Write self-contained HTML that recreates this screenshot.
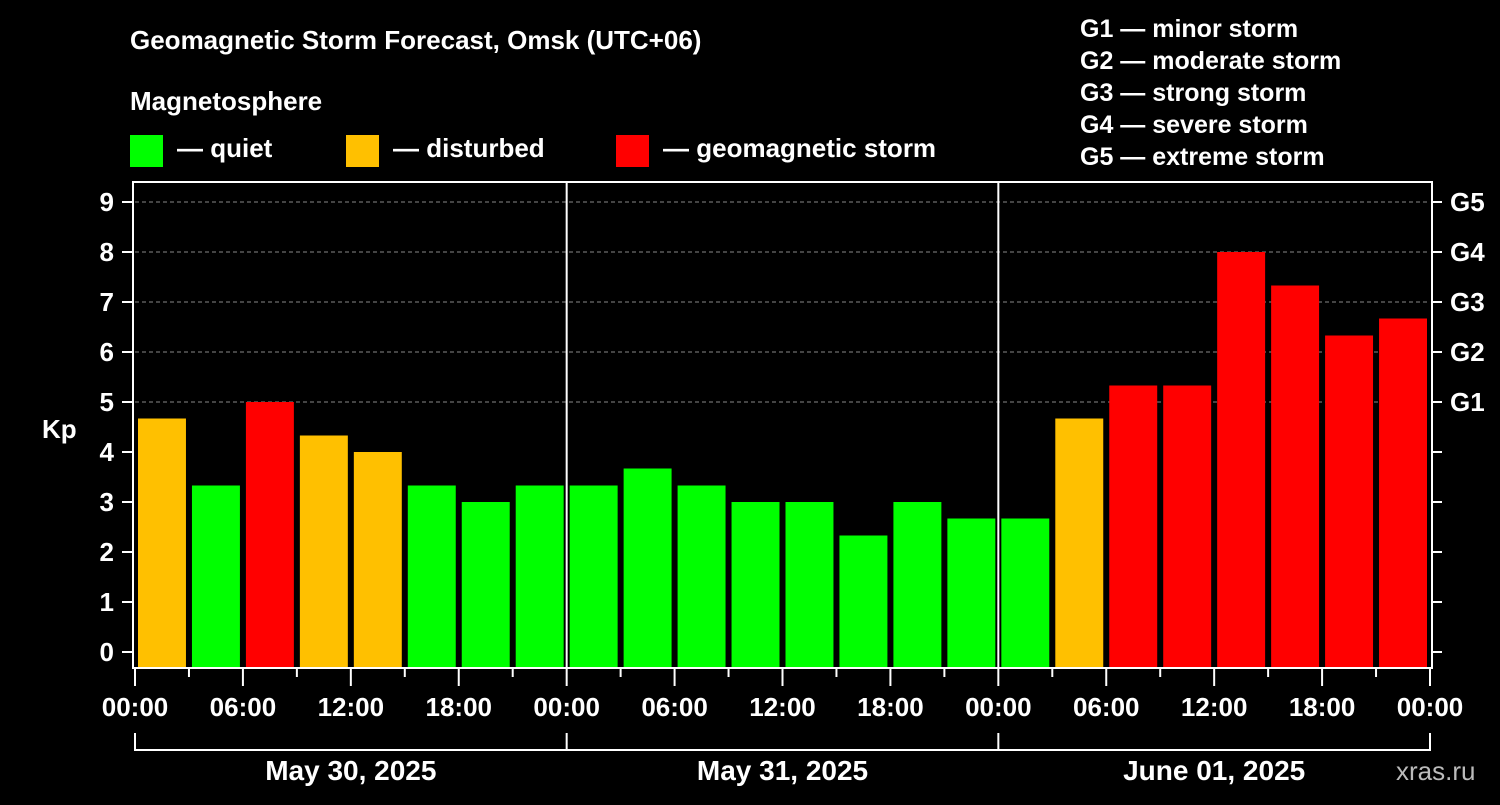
<!DOCTYPE html>
<html><head><meta charset="utf-8">
<style>
body{margin:0;background:#000;}
svg text{font-family:"Liberation Sans",sans-serif;font-weight:bold;fill:#fff;}
</style></head>
<body>
<svg id="chart" width="1500" height="800" viewBox="0 0 1500 800" xmlns="http://www.w3.org/2000/svg">
<rect width="1500" height="800" fill="#000"/>
<text x="130" y="49" font-size="26">Geomagnetic Storm Forecast, Omsk (UTC+06)</text>
<text x="130" y="110" font-size="26">Magnetosphere</text>
<g>
<rect x="130" y="135" width="33" height="32" fill="#00ff00"/>
<text x="177" y="157" font-size="26">— quiet</text>
<rect x="346" y="135" width="33" height="32" fill="#ffc000"/>
<text x="393" y="157" font-size="26">— disturbed</text>
<rect x="616" y="135" width="33" height="32" fill="#ff0000"/>
<text x="663" y="157" font-size="26">— geomagnetic storm</text>
</g>
<g font-size="25">
<text x="1080" y="37">G1 — minor storm</text>
<text x="1080" y="69">G2 — moderate storm</text>
<text x="1080" y="101">G3 — strong storm</text>
<text x="1080" y="133">G4 — severe storm</text>
<text x="1080" y="165">G5 — extreme storm</text>
</g>
<text x="42" y="438" font-size="26">Kp</text>
<text x="1396" y="780" font-size="26" style="fill:#bbb;font-weight:normal">xras.ru</text>
<g id="grid"></g>
<g id="bars"></g>
<g id="axes"></g>
</svg>
<script>
const kpValues=[4.67,3.33,5,4.33,4,3.33,3,3.33,3.33,3.67,3.33,3,3,2.33,3,2.67,2.67,4.67,5.33,5.33,8,7.33,6.33,6.67];
const yTicks=[0,1,2,3,4,5,6,7,8,9];
const gLabels=["G1","G2","G3","G4","G5"];
const gLevels=[5,6,7,8,9];
const xTickLabels=["00:00","06:00","12:00","18:00","00:00","06:00","12:00","18:00","00:00","06:00","12:00","18:00","00:00"];
const dayLabels=["May 30, 2025","May 31, 2025","June 01, 2025"];

const NS="http://www.w3.org/2000/svg";
const X0=135,X1=1430,TOP=182,BOT=668;
const hours=72;
const xS=h=>X0+(X1-X0)*h/hours;
const yS=v=>652-50*v;
function mk(tag,attrs,parent){const e=document.createElementNS(NS,tag);for(const k in attrs)e.setAttribute(k,attrs[k]);parent.appendChild(e);return e;}
const grid=document.getElementById('grid'),bars=document.getElementById('bars'),axes=document.getElementById('axes');
gLevels.forEach((v,i)=>{
 const l=mk('line',{x1:X0,x2:X1,y1:yS(v),y2:yS(v),stroke:'#888','stroke-width':1,'stroke-dasharray':'4,3'},grid);
 
 
});
const slot=(X1-X0)/kpValues.length;
kpValues.forEach((v,i)=>{
 const c=v>=5?'#ff0000':(v>=4?'#ffc000':'#00ff00');
 const r=mk('rect',{x:xS(i*3)+3,width:slot-6,y:yS(v),height:BOT-yS(v),fill:c},bars);
 
 
});
// day separators
[1,2].forEach(d=>{
 const l=mk('line',{x1:xS(d*24),x2:xS(d*24),y1:TOP,y2:BOT,stroke:'#fff','stroke-width':2},axes);
 
 
});
const fr=mk('rect',{x:133,y:TOP,width:X1-133+2,height:BOT-TOP,fill:'none',stroke:'#fff','stroke-width':2},axes);


yTicks.forEach(v=>{
 mk('line',{x1:122,x2:133,y1:yS(v),y2:yS(v),stroke:'#fff','stroke-width':2},axes);
 mk('line',{x1:1432,x2:1442,y1:yS(v),y2:yS(v),stroke:'#fff','stroke-width':2},axes);
 const t=mk('text',{x:114,y:yS(v)+9,'font-size':26,'text-anchor':'end'},axes);
 t.textContent=v;
 
 
});
gLabels.forEach((g,i)=>{
 const t=mk('text',{x:1450,y:yS(gLevels[i])+9,'font-size':26},axes);
 t.textContent=g;
 
 
});
for(let h=0;h<=hours;h+=3){
 const major=h%6===0;
 mk('line',{x1:xS(h),x2:xS(h),y1:BOT,y2:major?686:677,stroke:'#fff','stroke-width':2},axes);
}
xTickLabels.forEach((s,i)=>{
 const t=mk('text',{x:xS(i*6),y:716,'font-size':26,'text-anchor':'middle'},axes);
 t.textContent=s;
 
 
});
mk('path',{d:`M${xS(0)},733V750H${xS(72)}V733M${xS(24)},733V750M${xS(48)},733V750`,stroke:'#fff','stroke-width':2,fill:'none'},axes);
dayLabels.forEach((s,i)=>{
 const t=mk('text',{x:xS(i*24+12),y:780,'font-size':28,'text-anchor':'middle'},axes);
 t.textContent=s;
 
 
});
</script>
</body></html>
